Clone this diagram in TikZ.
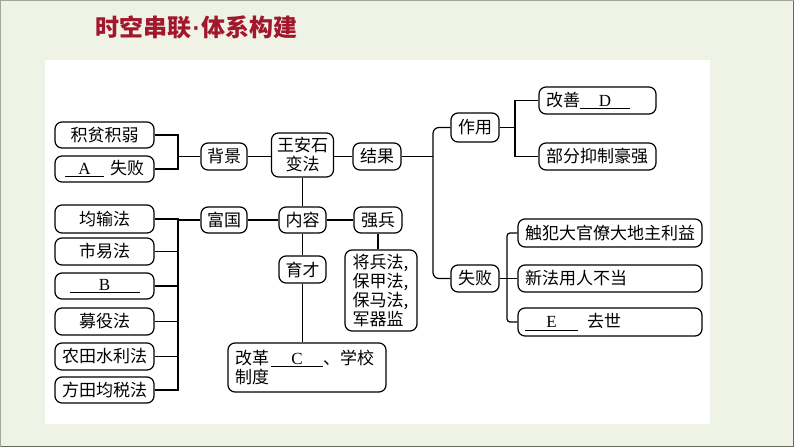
\documentclass[tikz,border=0pt]{standalone}
\usepackage{fontspec}
\setmainfont{Noto Sans CJK SC}
\newfontfamily\latf{Liberation Serif}
\newfontfamily\dotf{Liberation Sans}
\newcommand\fs{\fontsize{17pt}{19pt}\selectfont}
\newcommand\blk[2]{\rlap{\rule[-2.5pt]{#1}{0.9pt}}\makebox[#1]{\latf #2}}
\definecolor{bgc}{HTML}{EEF3E5}
\definecolor{ttl}{HTML}{A3172D}
\definecolor{brdA}{HTML}{9FA995}
\definecolor{brdB}{HTML}{666B60}
\tikzset{
  bx/.style={draw, rounded corners=7pt, line width=1.2pt, fill=white, inner sep=0pt, font=\fs, align=center},
  lbx/.style={bx, inner xsep=7pt, align=left},
  ln/.style={line width=1.2pt},
}
\begin{document}
\begin{tikzpicture}[x=1pt,y=-1pt]
\useasboundingbox (0,0) rectangle (794,447);
\fill[bgc] (0,0) rectangle (794,447);
\fill[white] (45,60) rectangle (710,424);
\draw[brdA, line width=1pt] (0.5,446.5) -- (0.5,0.5) -- (793.5,0.5);
\draw[brdB, line width=1pt] (793.5,0.5) -- (793.5,446.5) -- (0.5,446.5);
\node[font=\bfseries\fontsize{24pt}{26pt}\selectfont, text=ttl] (title) at (196.5,27) {时空串联\hspace{1pt}{\dotf\bfseries ·}\hspace{1pt}体系构建};

% left top
\node[bx, minimum width=99pt, minimum height=26pt] (jp) at (104.5,135) {积贫积弱};
\node[bx, minimum width=99pt, minimum height=26pt] (af) at (104.5,169) {\blk{39pt}{A}\hspace{6pt}失败};
\node[bx, minimum width=46pt, minimum height=27pt] (bj) at (224,156.5) {背景};
\node[bx, minimum width=62pt, minimum height=44pt] (wa) at (302.5,155) {王安石\\变法};
\node[bx, minimum width=48pt, minimum height=27pt] (jg) at (377,156.5) {结果};

% right
\node[bx, minimum width=48pt, minimum height=29pt] (zy) at (475,127.5) {作用};
\node[lbx, text width=103pt, minimum height=27pt] (gs) at (597.5,100.5) {改善\blk{50pt}{D}};
\node[lbx, text width=103pt, minimum height=27pt] (bf) at (597.5,156.5) {部分抑制豪强};
\node[bx, minimum width=48pt, minimum height=27pt] (sb) at (475,278.5) {失败};
\node[lbx, text width=170pt, minimum height=28pt] (cf) at (610,233) {触犯大官僚大地主利益};
\node[lbx, text width=170pt, minimum height=27pt] (xf) at (610,278.5) {新法用人不当};
\node[lbx, text width=170pt, minimum height=28pt] (eq) at (610,322) {\blk{53pt}{E}\hspace{9pt}去世};

% left bottom
\node[bx, minimum width=99pt, minimum height=28pt] (js) at (104.5,219) {均输法};
\node[bx, minimum width=99pt, minimum height=27pt] (sy) at (104.5,251.5) {市易法};
\node[bx, minimum width=99pt, minimum height=26pt] (bb) at (104.5,286) {\blk{70pt}{B}};
\node[bx, minimum width=99pt, minimum height=27pt] (my) at (104.5,321.5) {募役法};
\node[bx, minimum width=99pt, minimum height=27pt] (nt) at (104.5,356.5) {农田水利法};
\node[bx, minimum width=99pt, minimum height=26pt] (ft) at (104.5,390) {方田均税法};

\node[bx, minimum width=46pt, minimum height=26pt] (fg) at (224,220) {富国};
\node[bx, minimum width=47pt, minimum height=26pt] (nr) at (302.5,220) {内容};
\node[bx, minimum width=48pt, minimum height=26pt] (qb) at (378,220) {强兵};
\node[bx, minimum width=47pt, minimum height=27pt] (yc) at (302.5,269.5) {育才};
\node[lbx, inner xsep=7.5pt, text width=57pt, minimum height=81pt] (jb) at (381,290.5) {将兵法,\\保甲法,\\保马法,\\军器监};
\node[lbx, text width=144pt, minimum height=49pt] (gg) at (307,367.5) {改革\hspace{2pt}\blk{52pt}{C}、学校\\制度};

\coordinate (rxL) at (178,0);
\coordinate (rx) at (433,0);
\coordinate (rz) at (515,0);
\coordinate (rs) at (507,0);

% connectors
\draw[ln] (jp.east) -- (jp.east -| rxL) -- (af.east -| rxL) -- (af.east);
\draw[ln] (bj.west) -- (bj.west -| rxL);
\draw[ln] (js.east) -- (js.east -| rxL) -- (ft.east -| rxL) -- (ft.east);
\foreach \n in {sy,bb,my,nt} \draw[ln] (\n.east) -- (\n.east -| rxL);
\draw[ln] (fg.west) -- (fg.west -| rxL);
\draw[ln] (bj.east) -- (bj.east -| wa.west);
\draw[ln] (wa.east |- jg.west) -- (jg.west);
\draw[ln] (wa.south) -- (wa.south |- nr.north);
\draw[ln] (fg.east) -- (fg.east -| nr.west);
\draw[ln] (nr.east) -- (nr.east -| qb.west);
\draw[ln] (nr.south) -- (yc.north);
\draw[ln] (yc.south) -- (yc.south |- gg.north);
\draw[ln] (qb.south) -- (qb.south |- jb.north);
\draw[ln] (jg.east) -- (jg.east -| rx);
\draw[ln, rounded corners=6pt] (zy.west) -- (zy.west -| rx) -- (sb.west -| rx) -- (sb.west);
\draw[ln] (zy.east) -- (zy.east -| rz);
\draw[ln] (gs.west) -- (gs.west -| rz) -- (bf.west -| rz) -- (bf.west);
\draw[ln] (sb.east) -- (sb.east -| rs);
\draw[ln, rounded corners=3pt] (cf.west) -- (cf.west -| rs) -- (eq.west -| rs) -- (eq.west);
\draw[ln] (xf.west) -- (xf.west -| rs);
\end{tikzpicture}
\end{document}
